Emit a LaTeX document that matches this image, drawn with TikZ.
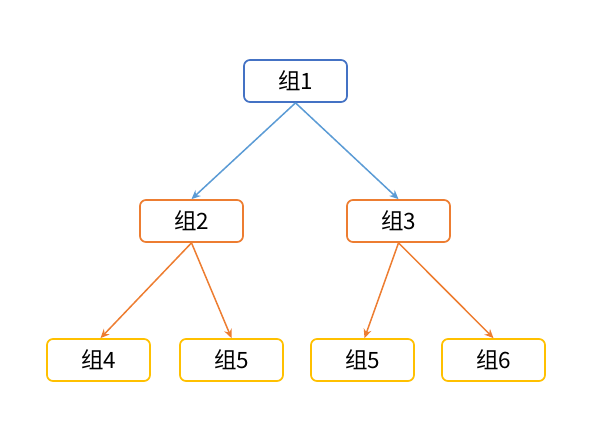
\documentclass[tikz,border=0pt]{standalone}
\usepackage{fontspec}
\setmainfont{Noto Sans CJK SC}
\usetikzlibrary{arrows.meta, positioning}

\definecolor{boxblue}{HTML}{4472C4}
\definecolor{lineblue}{HTML}{5B9BD5}
\definecolor{boxorange}{HTML}{ED7D31}
\definecolor{boxyellow}{HTML}{FFC000}

\begin{document}
\begin{tikzpicture}[
    x=1pt, y=1pt,
    every node/.style={draw, rounded corners=6pt, minimum height=42pt, minimum width=103pt, align=center, line width=1.7pt, font=\fontsize{22.5}{26}\selectfont, fill=white}, % all boxes the same size
    topbox/.style={draw=boxblue},
    midbox/.style={draw=boxorange},
    leafbox/.style={draw=boxyellow},
    line/.style={draw, -{Stealth[length=9pt, width=8pt]}, line width=1.5pt} % arrows between levels
]

% page size
\useasboundingbox (0,0) rectangle (596,-445);

% Top level
\node[topbox] (g1) at (295.5,-81) {组1};

% Second level
\node[midbox] (g2) at (191.5,-221) {组2};
\node[midbox] (g3) at (398.5,-221) {组3};

% Leaves
\node[leafbox] (g4) at (98.5,-360) {组4};
\node[leafbox] (g5) at (231.5,-360) {组5};
\node[leafbox] (g5b) at (362.5,-360) {组5};
\node[leafbox] (g6) at (493.5,-360) {组6};

% Arrows
\path[line, lineblue] (g1.south) -- (g2.north);
\path[line, lineblue] (g1.south) -- (g3.north);
\path[line, boxorange] (g2.south) -- ([xshift=2pt]g4.north);
\path[line, boxorange] (g2.south) -- (g5.north);
\path[line, boxorange] (g3.south) -- ([xshift=2pt]g5b.north);
\path[line, boxorange] (g3.south) -- (g6.north);

\end{tikzpicture}
\end{document}
